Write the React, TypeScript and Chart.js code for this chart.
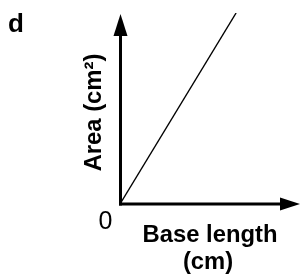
import React, { useEffect, useRef } from "react";
import { Chart, registerables } from "chart.js";

Chart.register(...registerables);

const baseLength: number[] = [0, 6.45];
const area: number[] = [0, 10];
const xTitleLines: string[] = ["Base length", "(cm)"];
const yTitle = "Area (cm²)";
const originLabel = "0";
const panelLabel = "d";

const FONT = '"Liberation Sans", Arial, Helvetica, sans-serif';

const axesPlugin = {
  id: "arrowAxes",
  afterDatasetsDraw(chart: any) {
    const ctx = chart.ctx as CanvasRenderingContext2D;
    const xs = chart.scales.x;
    const ys = chart.scales.y;
    const ox = xs.getPixelForValue(0) + 0.5;
    const oy = ys.getPixelForValue(0);
    const topY = ys.top + 1;
    const rightX = xs.right;
    ctx.save();
    ctx.strokeStyle = "#000";
    ctx.fillStyle = "#000";
    ctx.lineWidth = 3;
    ctx.lineCap = "butt";
    // y axis
    ctx.beginPath();
    ctx.moveTo(ox, oy + 1.5);
    ctx.lineTo(ox, topY + 20);
    ctx.stroke();
    ctx.beginPath();
    ctx.moveTo(ox, topY);
    ctx.lineTo(ox - 7, topY + 22);
    ctx.lineTo(ox + 7, topY + 22);
    ctx.closePath();
    ctx.fill();
    // x axis
    ctx.beginPath();
    ctx.moveTo(ox - 1.5, oy);
    ctx.lineTo(rightX - 18, oy);
    ctx.stroke();
    ctx.beginPath();
    ctx.moveTo(rightX, oy);
    ctx.lineTo(rightX - 20, oy - 6.5);
    ctx.lineTo(rightX - 20, oy + 6.5);
    ctx.closePath();
    ctx.fill();

    // texts
    ctx.textBaseline = "alphabetic";
    ctx.font = `bold 26px ${FONT}`;
    ctx.textAlign = "left";
    ctx.fillText(panelLabel, 8, 32);

    ctx.font = `25px ${FONT}`;
    ctx.textAlign = "center";
    ctx.fillText(originLabel, ox - 15, 229);

    ctx.font = `bold 23.8px ${FONT}`;
    ctx.fillText(xTitleLines[0], 210, 242);
    ctx.fillText(xTitleLines[1], 208, 269);

    ctx.save();
    ctx.translate(100.5, 112.5);
    ctx.rotate(-Math.PI / 2);
    ctx.fillText(yTitle, 0, 0);
    ctx.restore();
    ctx.restore();
  },
};

export default function App() {
  const ref = useRef<HTMLCanvasElement>(null);
  useEffect(() => {
    if (!ref.current) return;
    const chart = new Chart(ref.current, {
      type: "line",
      data: {
        datasets: [
          {
            data: baseLength.map((x, i) => ({ x, y: area[i] })),
            borderColor: "#000",
            borderWidth: 1.4,
            pointRadius: 0,
            fill: false,
            tension: 0,
          },
        ],
      },
      options: {
        animation: false,
        responsive: false,
        layout: { padding: { left: 120, right: 1, top: 13, bottom: 70 } },
        plugins: { legend: { display: false }, tooltip: { enabled: false } },
        scales: {
          x: { type: "linear", min: 0, max: 10, display: false },
          y: { type: "linear", min: 0, max: 10, display: false },
        },
      },
      plugins: [axesPlugin],
    });
    return () => chart.destroy();
  }, []);
  return (
    <div style={{ position: "absolute", left: 0, top: 0, width: 301, height: 274, background: "#fff" }}>
      <canvas ref={ref} width={301} height={274} style={{ display: "block" }} />
    </div>
  );
}
